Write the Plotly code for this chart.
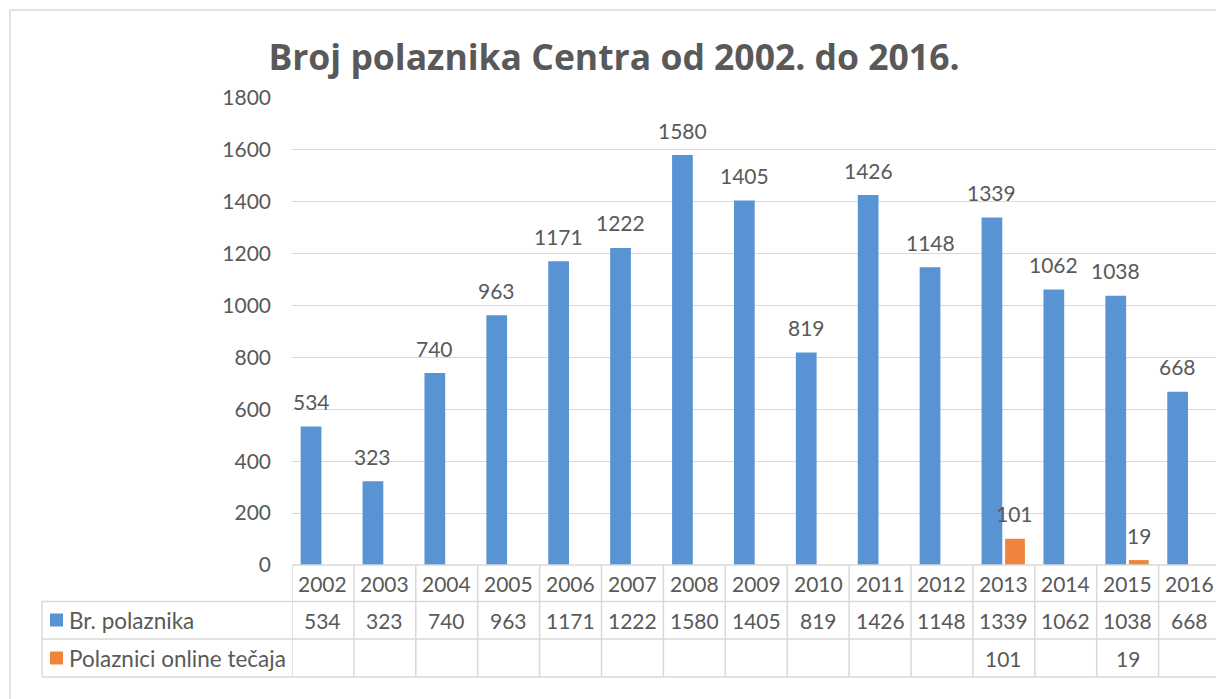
import plotly.graph_objects as go

years = ["2002", "2003", "2004", "2005", "2006", "2007", "2008", "2009",
         "2010", "2011", "2012", "2013", "2014", "2015", "2016"]
br_polaznika = [534, 323, 740, 963, 1171, 1222, 1580, 1405, 819, 1426,
                1148, 1339, 1062, 1038, 668]
online = [None, None, None, None, None, None, None, None, None, None,
          None, 101, None, 19, None]
series_names = ["Br. polaznika", "Polaznici online tečaja"]
y_ticks = [0, 200, 400, 600, 800, 1000, 1200, 1400, 1600, 1800]

W, H = 1216, 699
FONT = "Lato"
TXT = "#595959"
GRID = "#D9D9D9"
BLUE = "#5893D3"
ORANGE = "#F0843C"


def px(p):
    return p / W


def py(p):
    return 1 - p / H


idx = list(range(len(years)))
col_w = 61.9
x_left = 292
x_range = [-0.5, -0.5 + (W - x_left) / col_w]

blue_off, blue_w = -0.36, 0.335
or_off, or_w = 0.02, 0.32

fig = go.Figure()
fig.add_trace(go.Bar(x=idx, y=br_polaznika, name=series_names[0],
                     marker=dict(color=BLUE, line=dict(width=0)),
                     offset=blue_off, width=blue_w, hoverinfo="y"))
fig.add_trace(go.Bar(x=idx, y=[v if v is not None else 0 for v in online],
                     name=series_names[1],
                     marker=dict(color=ORANGE, line=dict(width=0)),
                     offset=or_off, width=or_w, hoverinfo="y"))

ann = []
# data labels
for i, v in zip(idx, br_polaznika):
    ann.append(dict(x=i + blue_off + blue_w / 2, y=v, xref="x", yref="y",
                    text=str(v), showarrow=False, yanchor="middle", yshift=25,
                    font=dict(family=FONT, size=21, color=TXT)))
for i, v in zip(idx, online):
    if v is not None:
        ann.append(dict(x=i + or_off + or_w / 2, y=v, xref="x", yref="y",
                        text=str(v), showarrow=False, yanchor="middle", yshift=25,
                        font=dict(family=FONT, size=21, color=TXT)))

# table cells
row_y = [583, 620, 658]
for i, yr in zip(idx, years):
    ann.append(dict(x=i, y=py(row_y[0]), xref="x", yref="paper", text=yr,
                    showarrow=False, yanchor="middle",
                    font=dict(family=FONT, size=21, color=TXT)))
for i, v in zip(idx, br_polaznika):
    ann.append(dict(x=i, y=py(row_y[1]), xref="x", yref="paper", text=str(v),
                    showarrow=False, yanchor="middle",
                    font=dict(family=FONT, size=21, color=TXT)))
for i, v in zip(idx, online):
    if v is not None:
        ann.append(dict(x=i, y=py(row_y[2]), xref="x", yref="paper", text=str(v),
                        showarrow=False, yanchor="middle",
                        font=dict(family=FONT, size=21, color=TXT)))
# legend text in table
for name, ry in zip(series_names, row_y[1:]):
    ann.append(dict(x=px(67), y=py(ry), xref="paper", yref="paper", text=name,
                    showarrow=False, xanchor="left", yanchor="middle",
                    font=dict(family=FONT, size=22.5, color=TXT)))

shapes = []
# outer chart border (top and left visible)
shapes.append(dict(type="rect", xref="paper", yref="paper",
                   x0=px(10), x1=1.2, y0=-0.2, y1=py(10),
                   line=dict(color=GRID, width=1.5), fillcolor="rgba(0,0,0,0)"))
# table horizontal lines
shapes.append(dict(type="line", xref="paper", yref="paper",
                   x0=px(x_left), x1=1, y0=py(565), y1=py(565),
                   line=dict(color=GRID, width=1.5)))
for yy in [601.5, 639, 677]:
    shapes.append(dict(type="line", xref="paper", yref="paper",
                       x0=px(42), x1=1, y0=py(yy), y1=py(yy),
                       line=dict(color=GRID, width=1.5)))
shapes.append(dict(type="line", xref="paper", yref="paper",
                   x0=px(42), x1=px(42), y0=py(601.5), y1=py(677),
                   line=dict(color=GRID, width=1.5)))
for i in range(len(years) + 1):
    shapes.append(dict(type="line", xref="x", yref="paper",
                       x0=i - 0.5, x1=i - 0.5, y0=py(565), y1=py(677),
                       line=dict(color=GRID, width=1.5)))
# legend keys
for col, ry in zip([BLUE, ORANGE], row_y[1:]):
    shapes.append(dict(type="rect", xref="paper", yref="paper",
                       x0=px(50), x1=px(63), y0=py(ry + 6.5), y1=py(ry - 6.5),
                       line=dict(width=0), fillcolor=col))

fig.update_layout(
    template="none",
    width=W, height=H,
    autosize=False,
    margin=dict(l=0, r=0, t=0, b=0, pad=0, autoexpand=False),
    paper_bgcolor="white", plot_bgcolor="white",
    showlegend=False,
    barmode="overlay",
    title=dict(text="<b>Broj polaznika Centra od 2002. do 2016.</b>",
               x=px(614), y=py(58), xanchor="center", yanchor="middle",
               xref="paper", yref="paper", automargin=False,
               font=dict(family="Open Sans", size=35.5, color=TXT)),
    xaxis=dict(domain=[px(x_left), 1], range=x_range, showticklabels=False,
               showgrid=False, zeroline=False, showline=False, ticks="",
               automargin=False, fixedrange=True),
    yaxis=dict(domain=[py(565), py(98)], range=[0, 1800], tickvals=y_ticks,
               showgrid=True, gridcolor=GRID, gridwidth=1, zeroline=False,
               showline=False, ticks="", ticklabelstandoff=20, automargin=False,
               fixedrange=True,
               tickfont=dict(family=FONT, size=21, color=TXT)),
    annotations=ann,
    shapes=shapes,
)

fig.write_html(
    "out.html",
    config={"displayModeBar": False},
    post_script="document.body.style.margin='0';document.body.style.overflow='hidden';",
)
